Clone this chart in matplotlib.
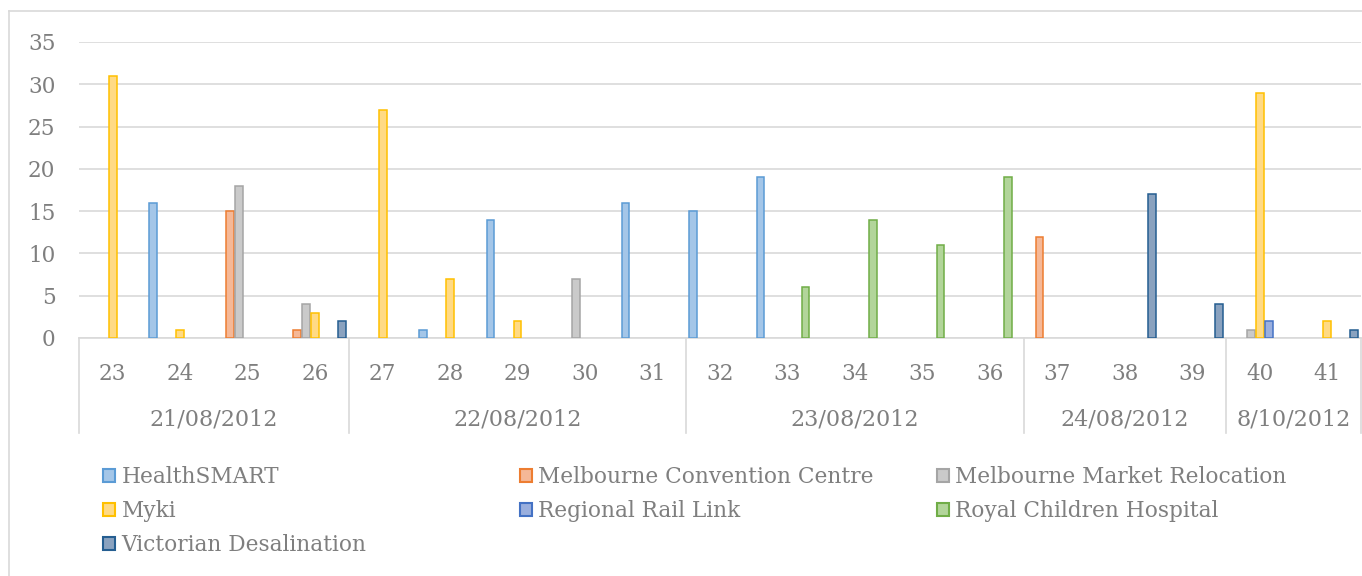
import numpy as np
import matplotlib
matplotlib.use("Agg")
import matplotlib.pyplot as plt
from matplotlib.patches import Patch
from matplotlib.lines import Line2D
import matplotlib.transforms as mtransforms

# Session numbers along the x axis, grouped by hearing date
categories = ["23", "24", "25", "26", "27", "28", "29", "30", "31", "32",
              "33", "34", "35", "36", "37", "38", "39", "40", "41"]
date_groups = ["21/08/2012", "22/08/2012", "23/08/2012", "24/08/2012", "8/10/2012"]
group_sizes = [4, 5, 5, 3, 2]

series_names = ["HealthSMART", "Melbourne Convention Centre", "Melbourne Market Relocation",
                "Myki", "Regional Rail Link", "Royal Children Hospital", "Victorian Desalination"]

healthsmart = [0, 16, 0, 0, 0, 1, 14, 0, 16, 15, 19, 0, 0, 0, 0, 0, 0, 0, 0]
convention  = [0, 0, 15, 1, 0, 0, 0, 0, 0, 0, 0, 0, 0, 0, 12, 0, 0, 0, 0]
market      = [0, 0, 18, 4, 0, 0, 0, 7, 0, 0, 0, 0, 0, 0, 0, 0, 0, 1, 0]
myki        = [31, 1, 0, 3, 27, 7, 2, 0, 0, 0, 0, 0, 0, 0, 0, 0, 0, 29, 2]
rail_link   = [0, 0, 0, 0, 0, 0, 0, 0, 0, 0, 0, 0, 0, 0, 0, 0, 0, 2, 0]
childrens   = [0, 0, 0, 0, 0, 0, 0, 0, 0, 0, 6, 14, 11, 19, 0, 0, 0, 0, 0]
desal       = [0, 0, 0, 2, 0, 0, 0, 0, 0, 0, 0, 0, 0, 0, 0, 17, 4, 0, 1]

series_values = [healthsmart, convention, market, myki, rail_link, childrens, desal]

edge_colors = ["#5B9BD5", "#ED7D31", "#A5A5A5", "#FFC000", "#4472C4", "#70AD47", "#255E91"]
fill_colors = ["#A4C6E8", "#F5B897", "#CACACA", "#FFDA85", "#9AAFDE", "#B2D59A", "#8AA2BF"]

TEXT = "#7F7F7F"
GRID = "#D9D9D9"
FONT = "DejaVu Serif"

plt.rcParams["font.family"] = [FONT, "DejaVu Sans"]

fig = plt.figure(figsize=(13.62, 5.76), dpi=100)
W, H = 1362, 576
ax = fig.add_axes([79 / W, 1 - 338 / H, (1361 - 79) / W, (338 - 42) / H])

n_series = len(series_values)
x = np.arange(len(categories))
slot = 1.0 / (n_series + 0.5)
for k, (vals, ec, fc) in enumerate(zip(series_values, edge_colors, fill_colors)):
    vals = np.asarray(vals, dtype=float)
    mask = vals > 0
    ax.bar(x[mask] + (k - (n_series - 1) / 2) * slot, vals[mask], width=slot * 0.86,
           facecolor=fc, edgecolor=ec, linewidth=1.1, zorder=3)

ax.set_xlim(-0.5, len(categories) - 0.5)
ax.set_ylim(0, 35)
ax.set_yticks(np.arange(0, 36, 5))
ax.yaxis.grid(True, color=GRID, linewidth=1.2)
ax.set_axisbelow(True)
for side in ["top", "right", "left"]:
    ax.spines[side].set_visible(False)
ax.spines["bottom"].set_color(GRID)
ax.spines["bottom"].set_linewidth(1.2)

ax.tick_params(axis="y", length=0, pad=17, labelsize=15.5, labelcolor=TEXT)
ax.set_xticks(x)
ax.set_xticklabels(categories)
ax.tick_params(axis="x", length=0, pad=18, labelsize=15.5, labelcolor=TEXT)

# Second level of the category axis: date groups and separators
trans = mtransforms.blended_transform_factory(ax.transData, ax.transAxes)
sep_bottom = -(433 - 338) / (338 - 42)
date_y = -(419 - 338) / (338 - 42)
edges = np.concatenate([[0], np.cumsum(group_sizes)]) - 0.5
for e in edges:
    ax.add_line(Line2D([e, e], [0, sep_bottom], transform=trans, color=GRID,
                       linewidth=1.2, clip_on=False))
for label, lo, hi in zip(date_groups, edges[:-1], edges[1:]):
    ax.text((lo + hi) / 2, date_y, label, transform=trans, ha="center", va="center",
            fontsize=16, color=TEXT)

# Legend laid out in three fixed-width columns
handles = [Patch(facecolor=fc, edgecolor=ec, linewidth=1.5)
           for fc, ec in zip(fill_colors, edge_colors)]
columns = [[0, 3, 6], [1, 4], [2, 5]]
col_x = [103, 520, 937]
for idx, cx in zip(columns, col_x):
    fig.legend([handles[i] for i in idx], [series_names[i] for i in idx],
               loc="upper left", bbox_to_anchor=(cx / W, 1 - 466 / H),
               frameon=False, fontsize=15.6, labelcolor=TEXT,
               handlelength=0.55, handleheight=0.55, handletextpad=0.3,
               labelspacing=0.56, borderpad=0, borderaxespad=0)

# Chart frame
fig.add_artist(Line2D([9 / W, 9 / W], [0, 1 - 11 / H], transform=fig.transFigure,
                      color=GRID, linewidth=1.2))
fig.add_artist(Line2D([9 / W, 1], [1 - 11 / H, 1 - 11 / H], transform=fig.transFigure,
                      color=GRID, linewidth=1.2))

fig.savefig("out.png", dpi=100, facecolor="white")
